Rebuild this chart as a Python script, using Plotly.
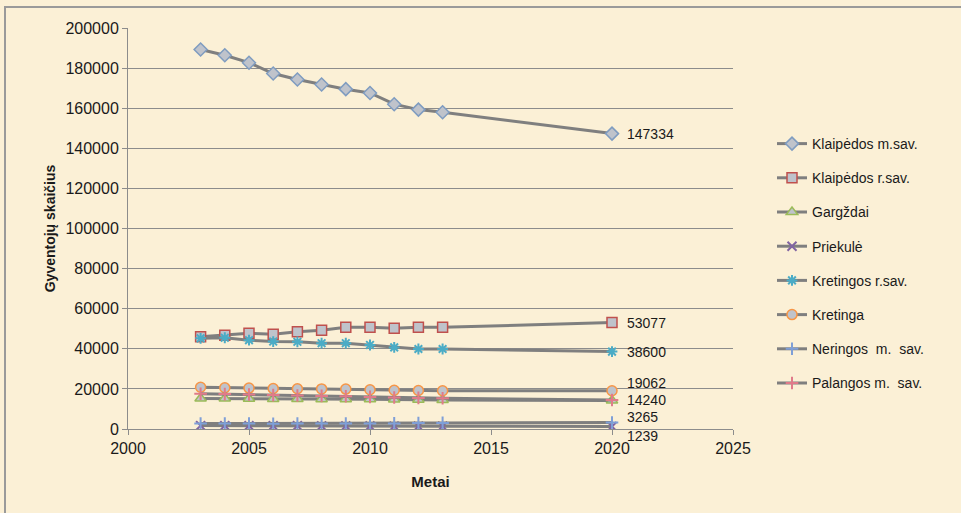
import plotly.graph_objects as go

years = [2003, 2004, 2005, 2006, 2007, 2008, 2009, 2010, 2011, 2012, 2013, 2020]

klaipedos_m = [189300, 186400, 182700, 177300, 174300, 171800, 169500, 167600, 162000, 159300, 158000, 147334]
klaipedos_r = [46000, 46800, 47700, 47300, 48500, 49300, 50700, 50700, 50200, 50700, 50700, 53077]
gargzdai = [15200, 15200, 15100, 15000, 15000, 14900, 14900, 14900, 14700, 14600, 14500, 14240]
priekule = [1700, 1700, 1650, 1600, 1600, 1550, 1500, 1480, 1450, 1400, 1380, 1239]
kretingos_r = [45200, 45500, 44300, 43600, 43500, 42800, 42800, 41900, 40700, 39900, 39900, 38600]
kretinga = [20800, 20600, 20400, 20200, 20100, 20000, 19900, 19600, 19300, 19200, 19100, 19062]
neringa = [2700, 2700, 2700, 2650, 2700, 2700, 2750, 2750, 2800, 3000, 3050, 3265]
palanga = [17600, 17400, 17200, 16900, 16700, 16500, 16300, 16000, 15700, 15500, 15300, 14500]

names = ["Klaipėdos m.sav.", "Klaipėdos r.sav.", "Gargždai", "Priekulė",
         "Kretingos r.sav.", "Kretinga", "Neringos  m.  sav.", "Palangos m.  sav."]
series = [klaipedos_m, klaipedos_r, gargzdai, priekule, kretingos_r, kretinga, neringa, palanga]
labels = ["147334", "53077", None, "1239", "38600", "19062", "3265", "14240"]
label_shift = [0, 0, 0, -9, 0, 8, 5, 0]

symbols = ["diamond", "square", "triangle-up", "x-thin-open", "asterisk-open", "circle", "cross-thin-open", "cross-thin-open"]
edge = ["#7f9cc0", "#c0504d", "#9bbb59", "#8064a2", "#4bacc6", "#f79646", "#7f9fd7", "#e07b8a"]
fill = "#bfc3cb"

fig = go.Figure()
for i, (nm, ys) in enumerate(zip(names, series)):
    open_sym = symbols[i].endswith("open")
    fig.add_trace(go.Scatter(
        x=years, y=ys, name=nm, mode="lines+markers",
        legendgroup=str(i),
        line=dict(color="#7f7f7f", width=3),
        marker=dict(symbol=symbols[i], size=10 if not open_sym else 9,
                    color=edge[i] if open_sym else fill,
                    line=dict(color=edge[i], width=1.5 if not open_sym else 2)),
    ))

for i, ys in enumerate(series):
    if labels[i] is None:
        continue
    fig.add_annotation(x=years[-1], y=ys[-1], text=labels[i], showarrow=False,
                       xanchor="left", yanchor="middle", xshift=13, yshift=label_shift[i],
                       font=dict(family="Liberation Sans", size=14, color="#1a1a1a"))

# chart border (paper coordinates computed from margins)
L, T, W, H = 128, 28, 605, 401
fig.add_shape(type="rect", xref="paper", yref="paper",
              x0=(5 - L) / W, x1=(975 - L) / W, y0=(T + H - 525) / H, y1=(T + H - 7) / H,
              line=dict(color="#9a9a9a", width=2), fillcolor="rgba(0,0,0,0)", layer="below")

fig.update_layout(
    width=961, height=513,
    margin=dict(l=L, r=961 - L - W, t=T, b=513 - T - H),
    paper_bgcolor="#fbf0d6", plot_bgcolor="#fbf0d6",
    font=dict(family="Liberation Sans", size=16, color="#1a1a1a"),
    showlegend=True,
    legend=dict(x=(772 - L) / W, y=(T + H - 128) / H, xanchor="left", yanchor="top",
                bgcolor="rgba(0,0,0,0)", traceorder="grouped", tracegroupgap=13,
                font=dict(family="Liberation Sans", size=14, color="#1a1a1a")),
    xaxis=dict(range=[2000, 2025], tickvals=[2000, 2005, 2010, 2015, 2020, 2025],
               showgrid=False, zeroline=False, showline=True, linecolor="#8c8c8c", linewidth=1,
               ticks="outside", ticklen=5, tickcolor="#8c8c8c",
               title=dict(text="<b>Metai</b>", font=dict(size=15), standoff=20)),
    yaxis=dict(range=[0, 200000], tickvals=list(range(0, 200001, 20000)), tickformat="d",
               showgrid=True, gridcolor="#8c8c8c", gridwidth=1, zeroline=False,
               showline=True, linecolor="#8c8c8c", linewidth=1,
               ticks="outside", ticklen=5, tickcolor="#8c8c8c",
               title=dict(text="<b>Gyventojų skaičius</b>", font=dict(size=14), standoff=6)),
)

fig.write_html("out.html")
